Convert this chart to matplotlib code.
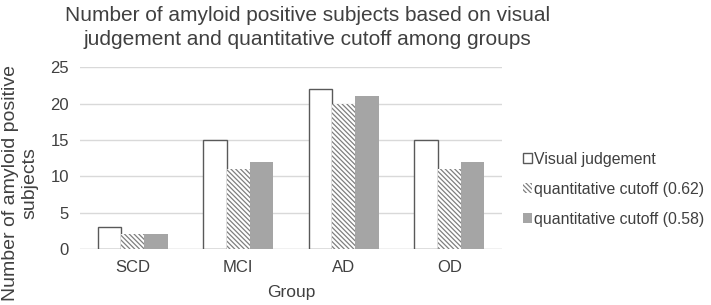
import matplotlib
matplotlib.use("Agg")
import matplotlib.pyplot as plt
import numpy as np

plt.rcParams["font.family"] = ["Liberation Sans", "DejaVu Sans"]
plt.rcParams["hatch.linewidth"] = 0.9

groups = ["SCD", "MCI", "AD", "OD"]
visual = [3, 15, 22, 15]
cut_062 = [2, 11, 20, 11]
cut_058 = [2, 12, 21, 12]
yticks = [0, 5, 10, 15, 20, 25]

TEXT = "#404040"
GRID = "#d9d9d9"

fig = plt.figure(figsize=(7.11, 3.05), dpi=100)
ax = fig.add_axes([0.1125, 0.1836, 0.5935, 0.5955])

x = np.arange(len(groups))
w = 0.22
ax.bar(x - w, visual, w, facecolor="white", edgecolor="#595959", linewidth=1.0,
       label="Visual judgement", zorder=3)
ax.bar(x, cut_062, w, facecolor="white", edgecolor="#7f7f7f", linewidth=0,
       hatch="\\" * 7, label="quantitative cutoff (0.62)", zorder=3)
ax.bar(x + w, cut_058, w, facecolor="#a5a5a5", edgecolor="#a5a5a5", linewidth=0,
       label="quantitative cutoff (0.58)", zorder=3)

ax.set_xlim(-0.5, len(groups) - 0.5)
ax.set_ylim(0, 25)
ax.set_yticks(yticks)
ax.set_xticks(x)
ax.set_xticklabels(groups)
ax.grid(axis="y", color=GRID, linewidth=1.0, zorder=0)
for s in ax.spines.values():
    s.set_visible(False)
ax.axhline(0, color=GRID, linewidth=1.0, zorder=2)
ax.tick_params(length=0, labelsize=12, colors=TEXT, pad=8)

ax.set_xlabel("Group", fontsize=12.5, color=TEXT, labelpad=7)
# y label sits lower than the plot-area centre, as in the original
fig.text(0.028, 0.4, "Number of amyloid positive\nsubjects", rotation=90,
         ha="center", va="center", fontsize=14, color=TEXT,
         multialignment="center", linespacing=1.2)
fig.text(0.432, 0.98, "Number of amyloid positive subjects based on visual\n"
         "judgement and quantitative cutoff among groups",
         ha="center", va="top", fontsize=15, color=TEXT, linespacing=1.3)

ax.legend(loc="center left", bbox_to_anchor=(1.015, 0.33), frameon=False,
          fontsize=11.4, handlelength=0.6, handleheight=0.6, handletextpad=0.15,
          labelspacing=0.95, labelcolor=TEXT)

fig.savefig("out.png", dpi=100)
